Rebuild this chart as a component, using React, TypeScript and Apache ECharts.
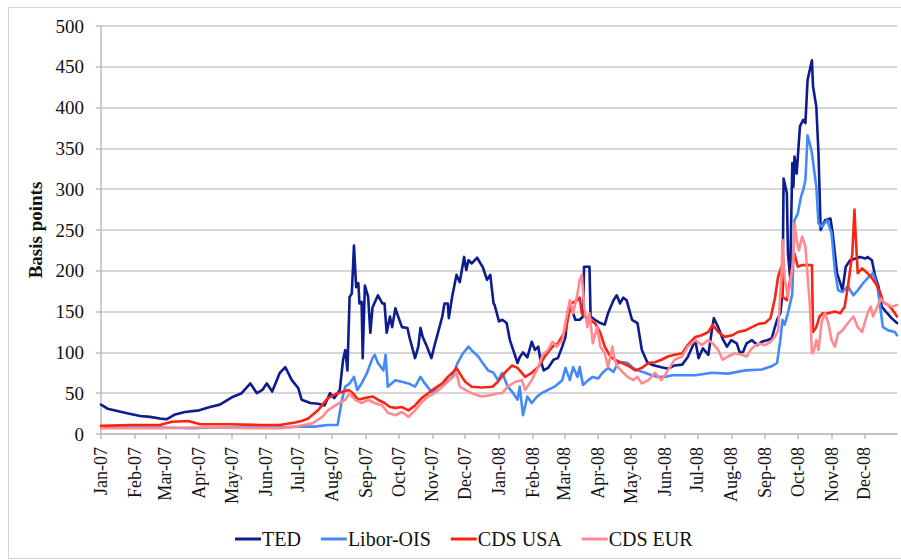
import React, { useEffect, useRef } from "react";
import * as echarts from "echarts";

// Day index counted from 2007-01-01 (category axis of daily dates)
const monthNames = ["Jan", "Feb", "Mar", "Apr", "May", "Jun", "Jul", "Aug", "Sep", "Oct", "Nov", "Dec"];
const startDate = "2007-01-01";
const endDate = "2008-12-31";
const yTicks = { min: 0, max: 500, interval: 50 };

const tedDays = [0, 6, 16, 25, 36, 45, 54, 60, 68, 77, 90, 100, 109, 120, 129, 137, 143, 148, 152, 157, 164, 169, 175, 181, 184, 192, 199, 205, 210, 214, 219, 222, 224, 226, 228, 230, 232, 234, 236, 237, 239, 240, 242, 245, 247, 249, 254, 258, 260, 262, 265, 267, 270, 272, 276, 281, 283, 288, 291, 293, 295, 299, 303, 306, 309, 313, 315, 318, 319, 322, 326, 329, 333, 335, 337, 340, 345, 348, 350, 354, 357, 360, 361, 365, 368, 372, 375, 378, 382, 384, 387, 391, 395, 398, 401, 403, 406, 410, 415, 419, 423, 426, 428, 431, 435, 439, 442, 443, 448, 449, 453, 458, 462, 465, 470, 473, 476, 479, 482, 487, 492, 496, 501, 505, 513, 520, 526, 533, 538, 545, 548, 552, 557, 560, 562, 566, 570, 574, 578, 583, 586, 589, 592, 597, 602, 606, 611, 615, 620, 623, 625, 626, 629, 630, 632, 634, 635, 636, 638, 641, 644, 646, 648, 650, 652, 653, 656, 658, 660, 664, 669, 671, 675, 678, 680, 683, 687, 692, 696, 701, 703, 707, 710, 713, 716, 721, 725, 730];
const tedValues = [36, 31, 28, 25, 22, 21, 19, 18, 24, 27, 29, 33, 36, 45, 50, 62, 50, 54, 62, 52, 75, 82, 66, 56, 42, 38, 37, 35, 50, 44, 54, 91, 103, 78, 168, 172, 231, 180, 185, 160, 162, 93, 182, 168, 124, 155, 170, 160, 160, 124, 144, 131, 154, 146, 131, 130, 118, 93, 107, 130, 119, 107, 93, 109, 124, 144, 160, 160, 142, 168, 195, 186, 217, 201, 213, 209, 216, 209, 205, 189, 195, 160, 158, 138, 140, 136, 115, 103, 87, 94, 100, 94, 113, 103, 107, 91, 78, 81, 91, 93, 107, 119, 150, 156, 140, 140, 144, 205, 205, 144, 140, 136, 134, 148, 164, 170, 160, 167, 164, 140, 136, 103, 88, 85, 82, 80, 84, 85, 94, 115, 93, 105, 97, 125, 142, 131, 117, 107, 115, 111, 99, 101, 111, 115, 109, 113, 115, 117, 140, 148, 172, 313, 295, 221, 193, 332, 303, 340, 319, 377, 385, 381, 434, 446, 458, 426, 401, 344, 250, 262, 264, 246, 197, 185, 176, 205, 213, 215, 217, 215, 217, 213, 193, 181, 156, 148, 142, 136];

const liborDays = [0, 27, 54, 82, 109, 137, 164, 182, 196, 208, 217, 221, 224, 228, 232, 235, 239, 244, 249, 251, 254, 259, 261, 263, 270, 276, 282, 288, 293, 297, 304, 309, 315, 322, 327, 332, 337, 341, 346, 350, 355, 360, 364, 368, 373, 378, 382, 384, 387, 391, 395, 400, 404, 410, 416, 423, 426, 430, 433, 437, 439, 442, 447, 451, 456, 460, 465, 470, 474, 479, 483, 488, 492, 499, 505, 511, 517, 524, 531, 545, 560, 575, 591, 606, 615, 620, 623, 625, 627, 630, 634, 636, 639, 642, 644, 646, 648, 650, 652, 656, 658, 661, 666, 670, 673, 676, 680, 685, 690, 694, 699, 703, 708, 712, 715, 717, 722, 728, 730];
const liborValues = [8, 8, 8, 7, 8, 8, 8, 9, 9, 11, 11, 42, 58, 62, 70, 54, 62, 75, 93, 97, 87, 78, 97, 58, 66, 64, 62, 58, 70, 62, 50, 58, 62, 70, 87, 99, 107, 101, 95, 87, 78, 75, 66, 75, 58, 50, 42, 58, 23, 46, 38, 46, 50, 54, 58, 66, 81, 66, 82, 70, 82, 60, 66, 70, 68, 75, 81, 76, 87, 88, 87, 81, 78, 75, 72, 70, 70, 72, 72, 72, 75, 74, 78, 79, 83, 87, 115, 140, 134, 148, 172, 262, 270, 291, 299, 311, 366, 356, 344, 303, 258, 254, 262, 246, 201, 176, 174, 181, 170, 176, 185, 191, 197, 181, 152, 131, 127, 125, 121];

const cdsUsaDays = [0, 27, 54, 65, 80, 91, 118, 146, 164, 178, 184, 190, 199, 208, 217, 227, 231, 236, 242, 249, 254, 260, 265, 270, 276, 282, 288, 294, 300, 306, 313, 318, 323, 326, 331, 334, 340, 349, 359, 364, 371, 377, 382, 389, 395, 401, 407, 414, 419, 426, 431, 434, 437, 439, 441, 444, 448, 453, 458, 462, 467, 471, 478, 483, 490, 496, 502, 508, 514, 520, 526, 533, 538, 545, 551, 557, 561, 566, 572, 579, 584, 591, 597, 603, 609, 614, 618, 621, 624, 625, 629, 632, 635, 636, 639, 643, 647, 652, 653, 656, 659, 662, 667, 673, 678, 682, 685, 689, 691, 692, 694, 698, 703, 707, 712, 715, 717, 722, 726, 730];
const cdsUsaValues = [10, 11, 11, 15, 16, 12, 12, 11, 11, 14, 16, 19, 29, 44, 50, 54, 50, 42, 44, 46, 42, 38, 33, 32, 33, 29, 35, 44, 50, 56, 62, 70, 76, 81, 70, 64, 58, 57, 58, 64, 76, 84, 81, 70, 75, 82, 95, 107, 111, 127, 160, 162, 164, 167, 148, 144, 140, 136, 124, 107, 95, 91, 87, 84, 78, 81, 87, 88, 91, 95, 97, 99, 109, 119, 121, 125, 134, 125, 119, 121, 125, 127, 131, 135, 136, 142, 166, 193, 205, 168, 164, 189, 213, 221, 205, 207, 207, 207, 125, 131, 144, 148, 148, 150, 148, 156, 181, 221, 275, 246, 197, 203, 197, 191, 181, 172, 162, 158, 152, 144];

const cdsEurDays = [0, 27, 54, 82, 109, 137, 164, 178, 194, 203, 208, 215, 224, 228, 233, 239, 245, 251, 258, 263, 270, 276, 282, 288, 294, 300, 306, 313, 318, 323, 326, 329, 334, 340, 349, 359, 364, 368, 373, 380, 386, 389, 395, 401, 405, 410, 414, 418, 423, 427, 430, 433, 437, 439, 441, 443, 446, 448, 451, 455, 458, 462, 465, 469, 471, 474, 479, 483, 488, 492, 496, 502, 508, 514, 520, 526, 533, 538, 545, 551, 557, 561, 566, 570, 575, 581, 588, 592, 597, 603, 609, 614, 618, 621, 624, 625, 627, 630, 632, 635, 636, 638, 640, 643, 646, 648, 650, 652, 654, 656, 658, 661, 664, 667, 670, 673, 676, 680, 685, 690, 694, 698, 703, 706, 708, 712, 715, 719, 725, 730];
const cdsEurValues = [7, 7, 7, 8, 8, 7, 7, 9, 13, 21, 29, 35, 42, 50, 42, 38, 42, 38, 35, 26, 23, 27, 21, 29, 39, 46, 50, 58, 64, 70, 75, 58, 54, 50, 46, 48, 50, 50, 58, 64, 66, 54, 66, 82, 97, 103, 113, 107, 115, 144, 164, 148, 172, 189, 195, 156, 131, 148, 111, 131, 107, 99, 82, 107, 91, 82, 75, 70, 66, 70, 62, 66, 75, 66, 78, 91, 95, 107, 115, 109, 115, 111, 103, 91, 95, 99, 97, 95, 105, 111, 109, 113, 119, 127, 193, 238, 189, 168, 185, 213, 258, 238, 225, 242, 230, 193, 160, 99, 103, 115, 103, 138, 148, 136, 115, 107, 123, 127, 136, 144, 131, 125, 148, 156, 144, 156, 166, 160, 156, 158];

const seriesNames = ["TED", "Libor-OIS", "CDS USA", "CDS EUR"];
const seriesColors = ["#0d1c8e", "#438af7", "#fb2412", "#ff8b90"];

const FONT = "Liberation Serif";

function buildCategories(): string[] {
  const out: string[] = [];
  const s = Date.parse(startDate + "T00:00:00Z");
  const e = Date.parse(endDate + "T00:00:00Z");
  for (let t = s; t <= e; t += 86400000) {
    out.push(new Date(t).toISOString().slice(0, 10));
  }
  return out;
}

export default function App() {
  const ref = useRef<HTMLDivElement | null>(null);

  useEffect(() => {
    if (!ref.current) return;
    const chart = echarts.init(ref.current, undefined, { renderer: "svg" });
    const categories = buildCategories();
    const isMonthStart = (_i: number, v: string) => v.slice(8, 10) === "01";
    const pairs = (days: number[], vals: number[]) => days.map((d, i) => [categories[d], vals[i]]);
    const allDays = [tedDays, liborDays, cdsUsaDays, cdsEurDays];
    const allVals = [tedValues, liborValues, cdsUsaValues, cdsEurValues];

    chart.setOption({
      animation: false,
      backgroundColor: "#ffffff",
      textStyle: { fontFamily: FONT },
      graphic: [
        {
          type: "rect",
          shape: { x: 8.5, y: 7.5, width: 900, height: 551 },
          style: { fill: "none", stroke: "#d4d4d4", lineWidth: 1 },
          silent: true,
        },
      ],
      grid: { left: 101, right: 4, top: 26, bottom: 126, containLabel: false },
      legend: {
        left: 235,
        top: 529,
        padding: 0,
        itemGap: 20,
        itemWidth: 26,
        itemHeight: 3,
        icon: "rect",
        data: seriesNames,
        textStyle: { fontFamily: FONT, fontSize: 20, color: "#111", padding: [0, 0, 0, -4] },
      },
      xAxis: {
        type: "category",
        data: categories,
        boundaryGap: false,
        axisLine: { lineStyle: { color: "#bdbdbd", width: 1.5 } },
        axisTick: { interval: isMonthStart, length: 5, lineStyle: { color: "#bdbdbd", width: 1.5 } },
        axisLabel: {
          interval: isMonthStart,
          rotate: 90,
          margin: 13,
          fontFamily: FONT,
          fontSize: 18,
          color: "#111",
          formatter: (v: string) => monthNames[parseInt(v.slice(5, 7), 10) - 1] + "-" + v.slice(2, 4),
        },
        splitLine: { show: false },
      },
      yAxis: {
        type: "value",
        min: yTicks.min,
        max: yTicks.max,
        interval: yTicks.interval,
        name: "Basis points",
        nameLocation: "middle",
        nameGap: 54,
        nameRotate: 90,
        nameTextStyle: { fontFamily: FONT, fontWeight: "bold", fontSize: 19, color: "#111" },
        axisLine: { show: true, lineStyle: { color: "#bdbdbd", width: 1.5 } },
        axisTick: { show: true, length: 5, lineStyle: { color: "#bdbdbd", width: 1.5 } },
        axisLabel: { margin: 17, fontFamily: FONT, fontSize: 19, color: "#111" },
        splitLine: { lineStyle: { color: "#c8c8c8", width: 1.5 } },
      },
      series: seriesNames.map((name, k) => ({
        name,
        type: "line",
        data: pairs(allDays[k], allVals[k]),
        showSymbol: false,
        symbol: "none",
        color: seriesColors[k],
        lineStyle: { color: seriesColors[k], width: 2.6, cap: "round", join: "round" },
        z: 2 + k,
      })),
    });

    return () => chart.dispose();
  }, []);

  return (
    <div
      ref={ref}
      style={{ position: "fixed", left: 0, top: 0, width: 901, height: 560, background: "#fff" }}
    />
  );
}
